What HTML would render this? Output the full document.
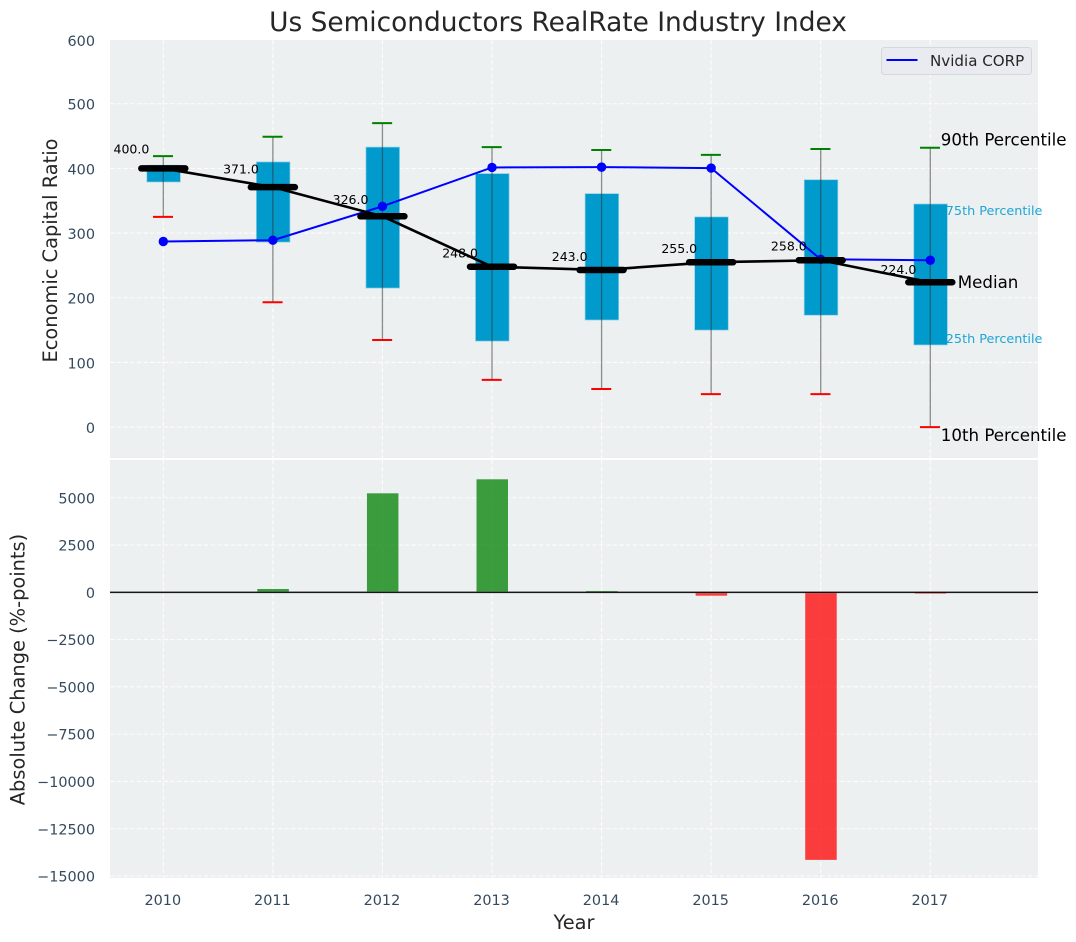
<!DOCTYPE html>
<html lang="en">
<head>
<meta charset="utf-8">
<title>Us Semiconductors RealRate Industry Index</title>
<style>
html,body{margin:0;padding:0;background:#fff;}
#chart{display:block;width:1076px;height:942px;font-family:"DejaVu Sans","Liberation Sans",sans-serif;}
</style>
</head>
<body>
<svg id="chart" xmlns="http://www.w3.org/2000/svg" width="1076" height="942" viewBox="0 0 1076 942">
<rect x="110" y="40" width="928" height="418" fill="#ecf0f1"/>
<rect x="110" y="460" width="928" height="418" fill="#ecf0f1"/>
<g id="grid"></g>
<g id="marks"></g>
<g id="ticks"></g>
<text x="558" y="31" font-size="26.4" fill="#262626" text-anchor="middle">Us Semiconductors RealRate Industry Index</text>
<text x="574" y="929" font-size="19.4" fill="#262626" text-anchor="middle">Year</text>
<text transform="translate(57,250.5) rotate(-90)" font-size="19.4" fill="#262626" text-anchor="middle">Economic Capital Ratio</text>
<text transform="translate(24.5,669.5) rotate(-90)" font-size="19.4" fill="#262626" text-anchor="middle">Absolute Change (%-points)</text>
<g>
<rect x="881.5" y="47.5" width="150" height="27" rx="3" fill="#e9ebf0" stroke="#d5d7da" stroke-width="1"/>
<line x1="886.5" y1="60" x2="917.5" y2="60" stroke="#0000ff" stroke-width="2"/>
<text x="930" y="66" font-size="15.1" fill="#262626">Nvidia CORP</text>
</g>
<script>
const years = [2010, 2011, 2012, 2013, 2014, 2015, 2016, 2017];
const p90 = [419, 449, 470, 433, 428.5, 421, 430, 432];
const p75 = [405, 410, 433, 392, 361, 325, 382.5, 345];
const median = [400, 371, 326, 248, 243, 255, 258, 224];
const p25 = [379, 286, 215, 133, 165.6, 150, 173, 127];
const p10 = [325, 193, 134.7, 73, 59, 51, 51, 0];
const nvidia = [287, 289, 341.4, 401.5, 402, 400.5, 259.5, 258];
const change = [5, 175, 5235, 5976, 70, -180, -14150, -70];
const topTicks = [0, 100, 200, 300, 400, 500, 600];
const bottomTicks = [-15000, -12500, -10000, -7500, -5000, -2500, 0, 2500, 5000];

const NS = 'http://www.w3.org/2000/svg';
const gridG = document.getElementById('grid');
const marksG = document.getElementById('marks');
const ticksG = document.getElementById('ticks');
const xs = v => 163.3 + (v - 2010) * 109.57;
const yTop = v => 427.1 - v * 0.6467;
const yBot = v => 592.3 - v * 0.01891;

function mk(tag, attrs, parent, text) {
  const el = document.createElementNS(NS, tag);
  for (const k in attrs) el.setAttribute(k, attrs[k]);
  if (text !== undefined) el.textContent = text;
  parent.appendChild(el);
  return el;
}
const gridStyle = {stroke: '#ffffff', 'stroke-width': 1.1, 'stroke-dasharray': '4.5 2.2', opacity: 0.85};

years.forEach(yr => {
  const a = mk('line', {x1: xs(yr), x2: xs(yr), y1: 40, y2: 458, ...gridStyle}, gridG);
  
  
  const b = mk('line', {x1: xs(yr), x2: xs(yr), y1: 460, y2: 878, ...gridStyle}, gridG);
  
  
  const t = mk('text', {x: xs(yr) - 0.5, y: 905, 'font-size': 14.4, fill: '#34495e', 'text-anchor': 'middle'}, ticksG, String(yr));
  
  
});
topTicks.forEach(v => {
  const g = mk('line', {x1: 110, x2: 1038, y1: yTop(v), y2: yTop(v), ...gridStyle}, gridG);
  
  
  const t = mk('text', {x: 95, y: Math.max(yTop(v), 40) + 5.9, 'font-size': 14.4, fill: '#34495e', 'text-anchor': 'end'}, ticksG, String(v));
  
  
});
bottomTicks.forEach(v => {
  const g = mk('line', {x1: 110, x2: 1038, y1: yBot(v), y2: yBot(v), ...gridStyle}, gridG);
  
  
  const t = mk('text', {x: 95, y: yBot(v) + 5.6, 'font-size': 14.4, fill: '#34495e', 'text-anchor': 'end'}, ticksG, String(v).replace('-', '\u2212'));
  
  
});

years.forEach((yr, i) => {
  const top = yTop(p75[i]);
  const box = mk('rect', {x: xs(yr) - 16.5, y: top, width: 33.6, height: yTop(p25[i]) - top, fill: '#009acd', stroke: '#8fd0e8', 'stroke-width': 0.7}, marksG);
  
  
  const w = mk('line', {x1: xs(yr), x2: xs(yr), y1: yTop(p90[i]), y2: yTop(p10[i]), stroke: '#333333', 'stroke-width': 1.3, opacity: 0.55}, marksG);
  
  
  const hi = mk('line', {x1: xs(yr) - 10.3, x2: xs(yr) + 9.7, y1: yTop(p90[i]), y2: yTop(p90[i]), stroke: '#008000', 'stroke-width': 2}, marksG);
  
  
  const lo = mk('line', {x1: xs(yr) - 10.3, x2: xs(yr) + 9.7, y1: yTop(p10[i]), y2: yTop(p10[i]), stroke: '#ff0000', 'stroke-width': 2}, marksG);
  
  
  const zero = yBot(0);
  const by = yBot(Math.max(change[i], 0));
  const bh = Math.abs(yBot(change[i]) - zero);
  const bar = mk('rect', {x: xs(yr) - 15.5, y: by, width: 31.5, height: bh, fill: change[i] >= 0 ? '#008000' : '#ff0000', 'fill-opacity': 0.75}, marksG);
  
  
});

const zeroHalo = mk('line', {x1: 110, x2: 1038, y1: yBot(0), y2: yBot(0), stroke: '#8a8a8a', 'stroke-width': 2.2, opacity: 0.6}, marksG);


const zeroLine = mk('line', {x1: 110, x2: 1038, y1: yBot(0), y2: yBot(0), stroke: '#000000', 'stroke-width': 1.2}, marksG);



const blue = mk('polyline', {points: years.map((yr, i) => xs(yr) + ',' + yTop(nvidia[i])).join(' '), fill: 'none', stroke: '#0000ff', 'stroke-width': 2}, marksG);


years.forEach((yr, i) => {
  const c = mk('circle', {cx: xs(yr), cy: yTop(nvidia[i]), r: 4.7, fill: '#0000ff'}, marksG);
  
  
});

const medLine = mk('polyline', {points: years.map((yr, i) => xs(yr) + ',' + yTop(median[i])).join(' '), fill: 'none', stroke: '#000000', 'stroke-width': 2.6}, marksG);


years.forEach((yr, i) => {
  const m = mk('line', {x1: xs(yr) - 22, x2: xs(yr) + 22, y1: yTop(median[i]), y2: yTop(median[i]), stroke: '#000000', 'stroke-width': 6.5, 'stroke-linecap': 'round'}, marksG);
  
  
  const t = mk('text', {x: xs(yr) - 14, y: yTop(median[i] * 1.06) + 0.5, 'font-size': 12.5, fill: '#000000', 'text-anchor': 'end'}, marksG, median[i].toFixed(1));
  
  
});

const last = years.length - 1;
const lx = xs(years[last]);
const a90 = mk('text', {x: lx + 10.5, y: yTop(p90[last]) - 2, 'font-size': 16.67, fill: '#000000'}, marksG, '90th Percentile');


const a75 = mk('text', {x: lx + 15.5, y: yTop(p75[last]) + 11, 'font-size': 12.8, fill: '#1fa6d4'}, marksG, '75th Percentile');


const a50 = mk('text', {x: lx + 27.5, y: yTop(median[last]) + 6, 'font-size': 16.67, fill: '#000000'}, marksG, 'Median');


const a25 = mk('text', {x: lx + 15.5, y: yTop(p25[last]) - 2, 'font-size': 12.8, fill: '#1fa6d4'}, marksG, '25th Percentile');


const a10 = mk('text', {x: lx + 10.5, y: yTop(p10[last]) + 14, 'font-size': 16.67, fill: '#000000'}, marksG, '10th Percentile');


</script>
</svg>
</body>
</html>
